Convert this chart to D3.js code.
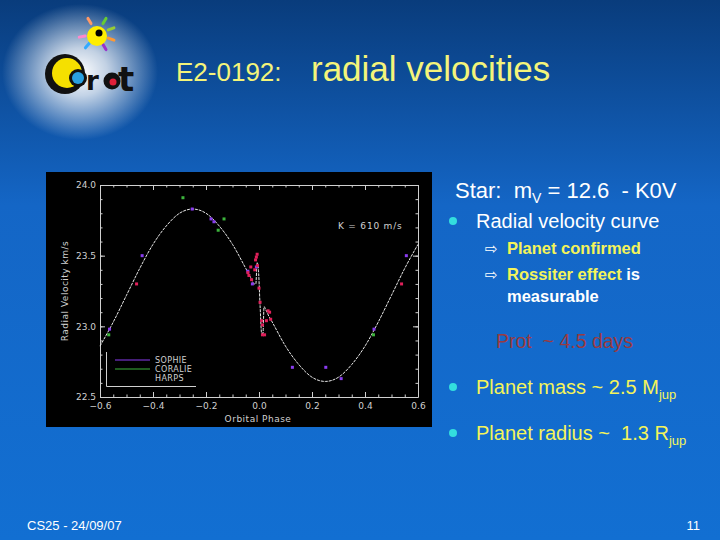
<!DOCTYPE html>
<html>
<head>
<meta charset="utf-8">
<script src="https://cdn.jsdelivr.net/npm/d3@7"></script>
<style>
  body { margin: 0; }
  svg { display: block; }
  svg text { white-space: pre; }
</style>
</head>
<body>
<div id="chart-area"></div>
<script>
// tick values
var phaseTicks = [-0.6, -0.4, -0.2, 0.0, 0.2, 0.4, 0.6];
var phaseMinor = d3.range(-0.6, 0.6001, 0.05);
var velTicks = [22.5, 23.0, 23.5, 24.0];
var velMinor = d3.range(22.5, 24.0001, 0.1);

// fitted curve (with the Rossiter wiggle near phase 0)
var curvePhase = [-0.60, -0.55, -0.50, -0.45, -0.40, -0.35, -0.30, -0.25, -0.20, -0.15, -0.10, -0.05,
  -0.03, -0.018, -0.012, -0.007, -0.003, 0.004, 0.010, 0.015, 0.019, 0.025, 0.035, 0.05,
  0.10, 0.15, 0.20, 0.25, 0.30, 0.35, 0.40, 0.45, 0.50, 0.55, 0.60];
var curveVel = [22.86, 23.03, 23.22, 23.41, 23.58, 23.71, 23.80, 23.83, 23.80, 23.71, 23.58, 23.41,
  23.34, 23.30, 23.30, 23.45, 23.42, 23.15, 22.95, 22.95, 23.14, 23.12, 23.08, 23.03,
  22.86, 22.73, 22.64, 22.61, 22.64, 22.73, 22.86, 23.03, 23.22, 23.41, 23.58];

// measurements
var sophiePhase = [-0.564, -0.441, -0.252, -0.181, -0.170, -0.042, -0.025, -0.010, 0.126, 0.252, 0.310, 0.434, 0.556];
var sophieVel = [22.98, 23.50, 23.83, 23.76, 23.74, 23.39, 23.30, 23.42, 22.71, 22.71, 22.63, 22.98, 23.50];
var coraliePhase = [-0.567, -0.287, -0.154, -0.132, 0.432];
var coralieVel = [22.94, 23.91, 23.68, 23.76, 22.94];
var harpsPhase = [-0.462, -0.042, -0.038, -0.031, -0.028, -0.016, -0.013, -0.010, -0.007, -0.006, 0.0, 0.004,
  0.010, 0.013, 0.013, 0.021, 0.028, 0.034, 0.040, 0.044, 0.538];
var harpsVel = [23.30, 23.38, 23.36, 23.42, 23.33, 23.40, 23.47, 23.49, 23.51, 23.43, 23.27, 23.17,
  23.04, 23.01, 22.94, 22.94, 23.04, 23.11, 23.10, 23.05, 23.30];

var legendNames = ["SOPHIE", "CORALIE", "HARPS"];
var legendColors = ["#8a3cf0", "#3cb43c", "#e0205a"];

var W = 720, H = 540;
var svg = d3.select("#chart-area").append("svg")
  .attr("width", W)
  .attr("height", H);

var defs = svg.append("defs");
var bg = defs.append("linearGradient").attr("id", "bg")
  .attr("x1", 0).attr("y1", 0).attr("x2", 0).attr("y2", 1);
bg.append("stop").attr("offset", "0%").attr("stop-color", "#093c7c");
bg.append("stop").attr("offset", "38%").attr("stop-color", "#1466c6");
bg.append("stop").attr("offset", "100%").attr("stop-color", "#126fd2");
var glow = defs.append("radialGradient").attr("id", "glow");
glow.append("stop").attr("offset", "0%").attr("stop-color", "#ffffff").attr("stop-opacity", 1);
glow.append("stop").attr("offset", "35%").attr("stop-color", "#ffffff").attr("stop-opacity", 0.75);
glow.append("stop").attr("offset", "100%").attr("stop-color", "#ffffff").attr("stop-opacity", 0);

svg.append("rect").attr("width", W).attr("height", H).attr("fill", "url(#bg)");
svg.append("ellipse").attr("cx", 80).attr("cy", 72).attr("rx", 78).attr("ry", 68).attr("fill", "url(#glow)");

// logo
var logo = svg.append("g");
var rays = [[-60, "#66cc33"], [-120, "#ff9966"], [170, "#ff88cc"], [130, "#33aaff"], [60, "#9933cc"], [20, "#ff9933"], [-20, "#99cc33"]];
rays.forEach(function(r) {
  var a = r[0] * Math.PI / 180;
  logo.append("line")
    .attr("x1", 97 + 12 * Math.cos(a)).attr("y1", 34 + 12 * Math.sin(a))
    .attr("x2", 97 + 18 * Math.cos(a)).attr("y2", 34 + 18 * Math.sin(a))
    .attr("stroke", r[1]).attr("stroke-width", 3).attr("stroke-linecap", "round");
});
logo.append("circle").attr("cx", 97).attr("cy", 36).attr("r", 10).attr("fill", "#ffee00");
logo.append("circle").attr("cx", 99).attr("cy", 33).attr("r", 3.5).attr("fill", "#000");
logo.append("circle").attr("cx", 65).attr("cy", 74).attr("r", 20).attr("fill", "#111");
logo.append("circle").attr("cx", 67).attr("cy", 73).attr("r", 15).attr("fill", "#f5e000");
logo.append("circle").attr("cx", 78).attr("cy", 78).attr("r", 9).attr("fill", "#111");
logo.append("circle").attr("cx", 78).attr("cy", 78).attr("r", 6).attr("fill", "#2aa0e0");
logo.append("text").attr("x", 86).attr("y", 90).attr("font-family", "DejaVu Sans").attr("font-weight", "bold")
  .attr("font-size", 26).attr("fill", "#111").text("r");
logo.append("circle").attr("cx", 112).attr("cy", 81).attr("r", 8.5).attr("fill", "#111");
logo.append("circle").attr("cx", 113).attr("cy", 82).attr("r", 3.5).attr("fill", "#e0203a");
logo.append("text").attr("x", 118).attr("y", 91).attr("font-family", "DejaVu Sans").attr("font-weight", "bold")
  .attr("font-size", 34).attr("fill", "#111").text("t");

// title
svg.append("text").attr("x", 176).attr("y", 81)
  .attr("font-family", "Liberation Sans, Arial").attr("font-size", 26)
  .attr("fill", "#f4f47a").text("E2-0192:");
svg.append("text").attr("x", 311).attr("y", 81)
  .attr("font-family", "Liberation Sans, Arial").attr("font-size", 35)
  .attr("fill", "#f4f47a").text("radial velocities");

// chart panel
var panel = svg.append("g");
panel.append("rect").attr("x", 46).attr("y", 172).attr("width", 386).attr("height", 255).attr("fill", "#000");

var x = d3.scaleLinear().domain([-0.6, 0.6]).range([100, 418]);
var y = d3.scaleLinear().domain([22.5, 24.0]).range([397, 185]);
var fg = "#d0d0d0";
var chartFont = "DejaVu Sans";

function styleAxis(g) {
  g.selectAll("path").attr("stroke", fg);
  g.selectAll("line").attr("stroke", fg);
  g.selectAll("text").attr("fill", fg).attr("font-family", chartFont).attr("font-size", 9);
}

panel.append("g").attr("transform", "translate(0,397)")
  .call(d3.axisBottom(x).tickValues(phaseTicks).tickSize(-5).tickSizeOuter(0).tickPadding(6).tickFormat(d3.format(".1f")))
  .call(styleAxis);
panel.append("g").attr("transform", "translate(0,397)")
  .call(d3.axisBottom(x).tickValues(phaseMinor).tickSize(-2.5).tickFormat(""))
  .call(function(g) { g.select(".domain").remove(); }).call(styleAxis);
panel.append("g").attr("transform", "translate(0,185)")
  .call(d3.axisTop(x).tickValues(phaseTicks).tickSize(-5).tickSizeOuter(0).tickFormat(""))
  .call(styleAxis);
panel.append("g").attr("transform", "translate(0,185)")
  .call(d3.axisTop(x).tickValues(phaseMinor).tickSize(-2.5).tickFormat(""))
  .call(function(g) { g.select(".domain").remove(); }).call(styleAxis);
panel.append("g").attr("transform", "translate(100,0)")
  .call(d3.axisLeft(y).tickValues(velTicks).tickSize(-5).tickSizeOuter(0).tickPadding(4).tickFormat(d3.format(".1f")))
  .call(styleAxis);
panel.append("g").attr("transform", "translate(100,0)")
  .call(d3.axisLeft(y).tickValues(velMinor).tickSize(-2.5).tickFormat(""))
  .call(function(g) { g.select(".domain").remove(); }).call(styleAxis);
panel.append("g").attr("transform", "translate(418,0)")
  .call(d3.axisRight(y).tickValues(velTicks).tickSize(-5).tickSizeOuter(0).tickFormat(""))
  .call(styleAxis);
panel.append("g").attr("transform", "translate(418,0)")
  .call(d3.axisRight(y).tickValues(velMinor).tickSize(-2.5).tickFormat(""))
  .call(function(g) { g.select(".domain").remove(); }).call(styleAxis);

panel.append("text").attr("x", 258).attr("y", 422).attr("text-anchor", "middle")
  .attr("font-family", chartFont).attr("font-size", 9).attr("fill", fg).attr("letter-spacing", 0.5)
  .text("Orbital Phase");
panel.append("text").attr("transform", "translate(68,291) rotate(-90)").attr("text-anchor", "middle")
  .attr("font-family", chartFont).attr("font-size", 9).attr("fill", fg).attr("letter-spacing", 0.5)
  .text("Radial Velocity km/s");
panel.append("text").attr("x", 338).attr("y", 229)
  .attr("font-family", chartFont).attr("font-size", 9).attr("fill", fg).attr("letter-spacing", 0.8)
  .text("K = 610 m/s");

// curve
var curve = d3.zip(curvePhase, curveVel);
panel.append("path").datum(curve)
  .attr("fill", "none").attr("stroke", "#e8e8e8").attr("stroke-width", 1)
  .attr("stroke-dasharray", "3,1")
  .attr("d", d3.line().x(function(d) { return x(d[0]); }).y(function(d) { return y(d[1]); }).curve(d3.curveMonotoneX));

function drawPoints(ph, v, color) {
  panel.append("g").selectAll("rect").data(d3.zip(ph, v)).enter().append("rect")
    .attr("x", function(d) { return x(d[0]) - 1.5; })
    .attr("y", function(d) { return y(d[1]) - 1.5; })
    .attr("width", 3).attr("height", 3)
    .attr("fill", color);
}
drawPoints(coraliePhase, coralieVel, legendColors[1]);
drawPoints(sophiePhase, sophieVel, legendColors[0]);
drawPoints(harpsPhase, harpsVel, legendColors[2]);

// legend
var leg = panel.append("g");
leg.append("path").attr("d", "M106.5,352 V386.5 H196").attr("fill", "none").attr("stroke", fg).attr("stroke-width", 1);
legendNames.forEach(function(n, i) {
  var ly = 360 + i * 9;
  if (i < 2) {
    leg.append("line").attr("x1", 115).attr("x2", 150).attr("y1", ly).attr("y2", ly)
      .attr("stroke", legendColors[i]).attr("stroke-width", 1);
  }
  leg.append("text").attr("x", 155).attr("y", ly + 3)
    .attr("font-family", chartFont).attr("font-size", 8).attr("fill", fg).attr("letter-spacing", 0.4)
    .text(n);
});

// right-hand text
var sans = "Liberation Sans, Arial";
var t1 = svg.append("text").attr("x", 455).attr("y", 198).attr("font-family", sans).attr("font-size", 22).attr("fill", "#ffffff");
t1.append("tspan").text("Star:  m");
t1.append("tspan").attr("font-size", 14).attr("dy", 5).text("V");
t1.append("tspan").attr("dy", -5).text(" = 12.6  - K0V");

function bullet(yy) {
  svg.append("circle").attr("cx", 453).attr("cy", yy).attr("r", 4).attr("fill", "#33dede");
}
bullet(221);
svg.append("text").attr("x", 476).attr("y", 228).attr("font-family", sans).attr("font-size", 20).attr("fill", "#ffffff")
  .text("Radial velocity curve");

svg.append("text").attr("x", 485).attr("y", 254).attr("font-family", "DejaVu Sans").attr("font-size", 15).attr("fill", "#ffffff").text("⇨");
svg.append("text").attr("x", 507).attr("y", 254).attr("font-family", sans).attr("font-weight", "bold").attr("font-size", 16.5)
  .attr("fill", "#f4f45a").text("Planet confirmed");
svg.append("text").attr("x", 485).attr("y", 280).attr("font-family", "DejaVu Sans").attr("font-size", 15).attr("fill", "#ffffff").text("⇨");
var t2 = svg.append("text").attr("x", 507).attr("y", 280).attr("font-family", sans).attr("font-weight", "bold").attr("font-size", 16.5);
t2.append("tspan").attr("fill", "#f4f45a").text("Rossiter effect ");
t2.append("tspan").attr("fill", "#ffffff").text("is");
svg.append("text").attr("x", 507).attr("y", 302).attr("font-family", sans).attr("font-weight", "bold").attr("font-size", 16.5)
  .attr("fill", "#ffffff").text("measurable");

svg.append("text").attr("x", 496).attr("y", 348).attr("font-family", sans).attr("font-size", 19.5)
  .attr("fill", "#9a3a40").text("Prot  ~ 4.5 days");

bullet(387);
var t3 = svg.append("text").attr("x", 476).attr("y", 394).attr("font-family", sans).attr("font-size", 20).attr("fill", "#f4f45a");
t3.append("tspan").text("Planet mass ~ 2.5 M");
t3.append("tspan").attr("font-size", 13).attr("dy", 5).text("jup");
bullet(433);
var t4 = svg.append("text").attr("x", 476).attr("y", 440).attr("font-family", sans).attr("font-size", 20).attr("fill", "#f4f45a");
t4.append("tspan").text("Planet radius ~  1.3 R");
t4.append("tspan").attr("font-size", 13).attr("dy", 5).text("jup");

// footer
svg.append("text").attr("x", 27).attr("y", 530).attr("font-family", "Liberation Sans Narrow, Liberation Sans").attr("font-size", 13)
  .attr("fill", "#ffffff").text("CS25 - 24/09/07");
svg.append("text").attr("x", 700).attr("y", 530).attr("text-anchor", "end").attr("font-family", "Liberation Sans Narrow, Liberation Sans").attr("font-size", 13)
  .attr("fill", "#ffffff").text("11");
</script>
</body>
</html>
